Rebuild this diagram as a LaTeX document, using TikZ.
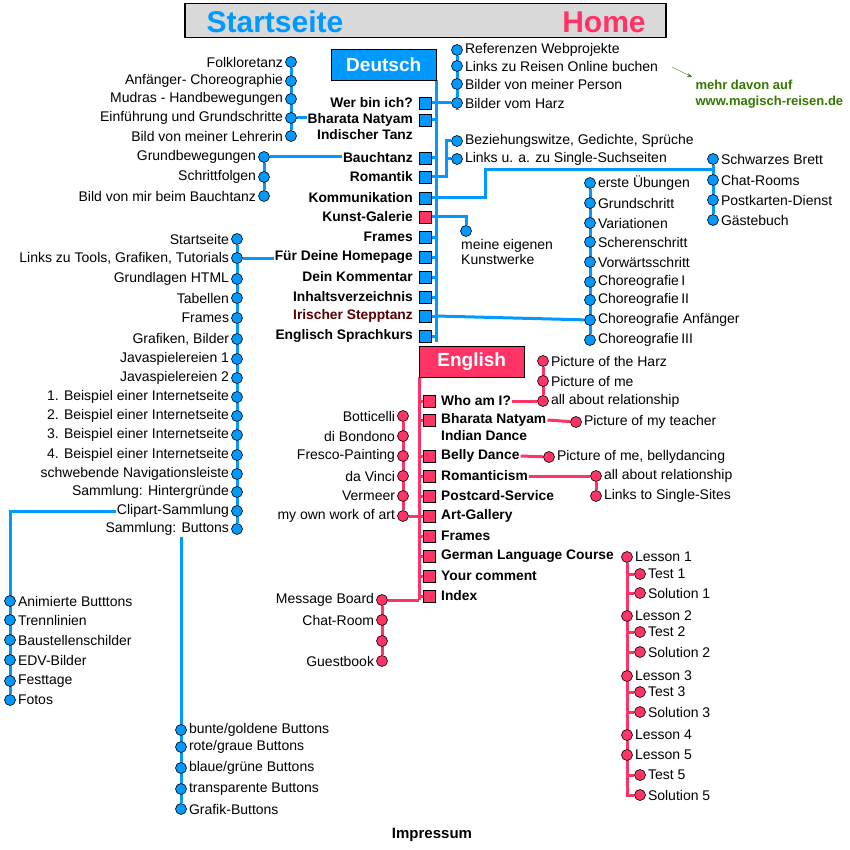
\documentclass[tikz,border=0pt]{standalone}
\usepackage{fontspec}
\setmainfont{Liberation Sans}
\usetikzlibrary{positioning,backgrounds,arrows.meta}
\definecolor{blu}{RGB}{0,153,255}
\definecolor{rd}{RGB}{255,51,102}
\definecolor{gry}{RGB}{217,217,217}
\definecolor{grn}{RGB}{51,120,0}
\definecolor{brn}{RGB}{90,0,0}
\tikzset{
  dotb/.style={circle,draw=black,fill=blu,inner sep=0pt,minimum size=11pt,line width=.6pt},
  dotr/.style={dotb,fill=rd},
  sqb/.style={rectangle,draw=black,fill=blu,inner sep=0pt,minimum size=12pt,line width=.6pt},
  sqr/.style={sqb,fill=rd},
  txt/.style={inner sep=1pt,font=\fontsize{14}{15}\selectfont},
  btxt/.style={txt,font=\fontsize{13.8}{15}\selectfont\bfseries},
  lb/.style={blu,line width=3pt},
  lr/.style={rd,line width=3pt}
}
\begin{document}
\begin{tikzpicture}[x=1pt,y=-1pt]
    \useasboundingbox (0,0) rectangle (850,850);
    % title bar
    \node[draw=black,line width=1.5pt,fill=gry,minimum width=481pt,minimum height=34pt,anchor=north west] (title) at (184,3) {};
    \node[blu,font=\fontsize{30}{32}\selectfont\bfseries] (start) at (275,22) {Startseite};
    \node[rd,font=\fontsize{30}{32}\selectfont\bfseries] (home) at (604,22) {Home};
    % language boxes
    \node[draw=black,fill=blu,minimum width=105pt,minimum height=31pt,anchor=north west,text=white,font=\fontsize{19}{21}\selectfont\bfseries] (de) at (331,49) {Deutsch};
    \node[draw=black,fill=rd,minimum width=105pt,minimum height=31pt,anchor=north west,text=white,font=\fontsize{19}{21}\selectfont\bfseries] (en) at (419,346) {English};
    \coordinate (deTop) at (436,80);  \coordinate (deBot) at (436,342);
    \coordinate (enTop) at (419,377); \coordinate (enBot) at (419,600);

    % German menu
    \foreach \y/\t/\s/\c [count=\i] in {103/Wer bin ich?/sqb/black, 120/Bharata Natyam/sqb/black, 158/Bauchtanz/sqb/black,
        177/Romantik/sqb/black, 198/Kommunikation/sqb/black, 217/Kunst-Galerie/sqr/black, 237/Frames/sqb/black,
        257/Für Deine Homepage/sqb/black, 277/Dein Kommentar/sqb/black, 297/Inhaltsverzeichnis/sqb/black,
        316/Irischer Stepptanz/sqb/brn, 336/Englisch Sprachkurs/sqb/black}
    {
        \node[\s] (d\i) at (425,\y) {};
        \node[btxt,text=\c,anchor=east] (dt\i) at (414,\y) {\t};
    }
    \node[btxt,anchor=east] (dt2b) at (414,135) {Indischer Tanz};

    % English menu
    \foreach \y/\t [count=\i] in {401/Who am I?, 420/Bharata Natyam, 456/Belly Dance, 476/Romanticism,
        496/Postcard-Service, 516/Art-Gallery, 536/Frames, 556/German Language Course, 576/Your comment, 596/Index}
    {
        \node[sqr] (e\i) at (429,\y) {};
        \node[btxt,anchor=west] (et\i) at (440,\y) {\t};
    }
    \node[btxt,anchor=west] (et2b) at (440,436) {Indian Dance};

    % blue leaf columns (right aligned labels)
    \foreach \y/\t [count=\i] in {62/Folkloretanz, 81/Anfänger- Choreographie, 99/Mudras - Handbewegungen,
        118/Einführung und Grundschritte, 136/Bild von meiner Lehrerin}
    { \node[dotb] (fo\i) at (291,\y) {}; \node[txt,left=1pt of fo\i] (fot\i) {\t}; }
    \foreach \y/\t [count=\i] in {157/Grundbewegungen, 177/Schrittfolgen, 196/Bild von mir beim Bauchtanz}
    { \node[dotb] (ba\i) at (264,\y) {}; \node[txt,left=1pt of ba\i] (bat\i) {\t}; }
    \foreach \y/\t [count=\i] in {239/Startseite, 258/{Links zu Tools, Grafiken, Tutorials}, 279/Grundlagen HTML,
        298/Tabellen, 318/Frames, 339/{Grafiken, Bilder}, 359/Javaspielereien 1, 378/Javaspielereien 2,
        397/1. Beispiel einer Internetseite, 416/2. Beispiel einer Internetseite, 435/3. Beispiel einer Internetseite,
        455/4. Beispiel einer Internetseite, 474/schwebende Navigationsleiste, 492/Sammlung: Hintergründe,
        511/Clipart-Sammlung, 529/Sammlung: Buttons}
    { \node[dotb] (hp\i) at (237,\y) {}; \node[txt,left=1pt of hp\i] (hpt\i) {\t}; }

    % blue leaf columns (left aligned labels)
    \foreach \y/\t [count=\i] in {50/Referenzen Webprojekte, 66/Links zu  Reisen Online buchen,
        84/Bilder von meiner Person, 103/Bilder vom Harz}
    { \node[dotb] (wb\i) at (457,\y) {}; \node[txt,right=1pt of wb\i] (wbt\i) {\t}; }
    \foreach \y/\t [count=\i] in {141/{Beziehungswitze, Gedichte, Sprüche}, 159/Links u. a. zu Single-Suchseiten}
    { \node[dotb] (ro\i) at (457,\y) {}; \node[txt,right=1pt of ro\i] (rot\i) {\t}; }
    \foreach \y/\t [count=\i] in {159/Schwarzes Brett, 180/Chat-Rooms, 200/Postkarten-Dienst, 220/Gästebuch}
    { \node[dotb] (ko\i) at (713,\y) {}; \node[txt,right=1pt of ko\i] (kot\i) {\t}; }
    \foreach \y/\t [count=\i] in {183/erste Übungen, 203/Grundschritt, 223/Variationen, 242/Scherenschritt,
        262/Vorwärtsschritt, 282/Choreografie\,I, 300/Choreografie\,II, 320/Choreografie  Anfänger, 340/Choreografie\,III}
    { \node[dotb] (st\i) at (590,\y) {}; \node[txt,right=1pt of st\i] (stt\i) {\t}; }
    \node[dotb] (kg) at (466,231) {};
    \node[txt,anchor=north west,align=left] (kgt) at (460,238) {meine eigenen\\Kunstwerke};
    \foreach \y/\t [count=\i] in {601/Animierte Butttons, 620/Trennlinien, 640/Baustellenschilder,
        660/EDV-Bilder, 681/Festtage, 700/Fotos}
    { \node[dotb] (cl\i) at (10,\y) {}; \node[txt,right=1pt of cl\i] (clt\i) {\t}; }
    \foreach \y/\t [count=\i] in {730/{bunte/goldene Buttons}, 747/{rote/graue Buttons}, 768/{blaue/grüne Buttons},
        789/transparente Buttons, 809/Grafik-Buttons}
    { \node[dotb] (bu\i) at (181,\y) {}; \node[txt,right=1pt of bu\i] (but\i) {\t}; }

    % red leaf columns
    \foreach \y/\t [count=\i] in {361/Picture of the Harz, 381/Picture of me, 401/all about relationship}
    { \node[dotr] (wa\i) at (543,\y) {}; \node[txt,right=1pt of wa\i] (wat\i) {\t}; }
    \node[dotr] (bn) at (576,422) {}; \node[txt,right=1pt of bn] (bnt) {Picture of my teacher};
    \node[dotr] (bd) at (549,457) {}; \node[txt,right=1pt of bd] (bdt) {Picture of me, bellydancing};
    \foreach \y/\t [count=\i] in {476/all about relationship, 496/Links to Single-Sites}
    { \node[dotr] (rm\i) at (596,\y) {}; \node[txt,right=1pt of rm\i] (rmt\i) {\t}; }
    \foreach \y/\t [count=\i] in {416/Botticelli, 436/di Bondono, 456/Fresco-Painting, 476/da Vinci,
        496/Vermeer, 516/my own work of art}
    { \node[dotr] (ag\i) at (403,\y) {}; \node[txt,left=1pt of ag\i] (agt\i) {\t}; }
    \foreach \y/\t [count=\i] in {600/Message Board, 620/Chat-Room, 641/{}, 661/Guestbook}
    { \node[dotr] (ix\i) at (382,\y) {}; \node[txt,left=1pt of ix\i] (ixt\i) {\t}; }
    \foreach \y/\t [count=\i] in {557/Lesson 1, 616/Lesson 2, 676/Lesson 3, 735/Lesson 4, 755/Lesson 5}
    { \node[dotr] (ls\i) at (627,\y) {}; \node[txt,right=1pt of ls\i] (lst\i) {\t}; }
    \foreach \y/\t [count=\i] in {574/Test 1, 593/Solution 1, 632/Test 2, 652/Solution 2, 692/Test 3,
        712/Solution 3, 775/Test 5, 795/Solution 5}
    { \node[dotr] (ts\i) at (640,\y) {}; \node[txt,right=1pt of ts\i] (tst\i) {\t}; }

    % link note
    \node[grn,font=\fontsize{13}{16}\selectfont\bfseries,align=left,anchor=north west] (more) at (692,77) {mehr davon auf\\www.magisch-reisen.de};
    \coordinate (arr) at (672,67);
    \draw[grn,-{Stealth[length=5pt]}] (arr) -- (more.north west);
    \node[btxt,font=\fontsize{15}{17}\selectfont\bfseries] (imp) at (432,835) {Impressum};

    % connectors
    \begin{scope}[on background layer]
        \draw[lb] (deTop) -- (deBot);
        \foreach \i in {1,...,12} { \draw[lb] (d\i) -- (d\i -| deTop); }
        \draw[lb] (wb1) -- (wb4) -- ++(0,7);
        \draw[lb] (d1) -- (wb4);
        \draw[lb] (fo1) -- (fo5);
        \draw[lb] (fo4) -- (fo4 -| dt2.west);
        \draw[lb] (ba1) -- (ba3);
        \draw[lb] (ba1) -- (ba1 -| dt3.west);
        \draw[lb] (d4 -| deTop) -| (446,141) -- (ro1);
        \draw[lb] (446,159) -- (ro2);
        \draw[lb] (d5 -| deTop) -| (485,170) -- (ko1 |- 0,170);
        \draw[lb] (ko1) -- (ko4);
        \draw[lb] (d6 -| deTop) -| (kg);
        \draw[lb] (st1) -- (st9);
        \draw[lb] (d11 -| deTop) -- (st8);
        \draw[lb] (hp1) -- (hp16);
        \draw[lb] (hp2) -- (hp2 -| dt8.west);
        \draw[lb] (hpt15.west) -- (hpt15.west -| cl1) -- (cl6);
        \draw[lb] (hpt16.south -| bu1) -- (bu5);
        \draw[lr] (enTop) -- (enBot);
        \foreach \i in {1,...,10} { \draw[lr] (e\i) -- (e\i -| enTop); }
        \draw[lr] (wa1) -- (wa3);
        \draw[lr] (et1.east) -- (wa3);
        \draw[lr] (et2.east) -- (bn);
        \draw[lr] (et3.east) -- (bd);
        \draw[lr] (et4.east) -- (rm1) -- (rm2);
        \draw[lr] (ag1) -- (ag6) -- (e6);
        \draw[lr] (enBot) -- (ix1) -- (ix4);
        \draw[lr] (ls1) -- (ls1 |- ts8) -- (ts8);
        \foreach \i in {1,...,7} { \draw[lr] (ts\i) -- (ts\i -| ls1); }
    \end{scope}
\end{tikzpicture}
\end{document}
